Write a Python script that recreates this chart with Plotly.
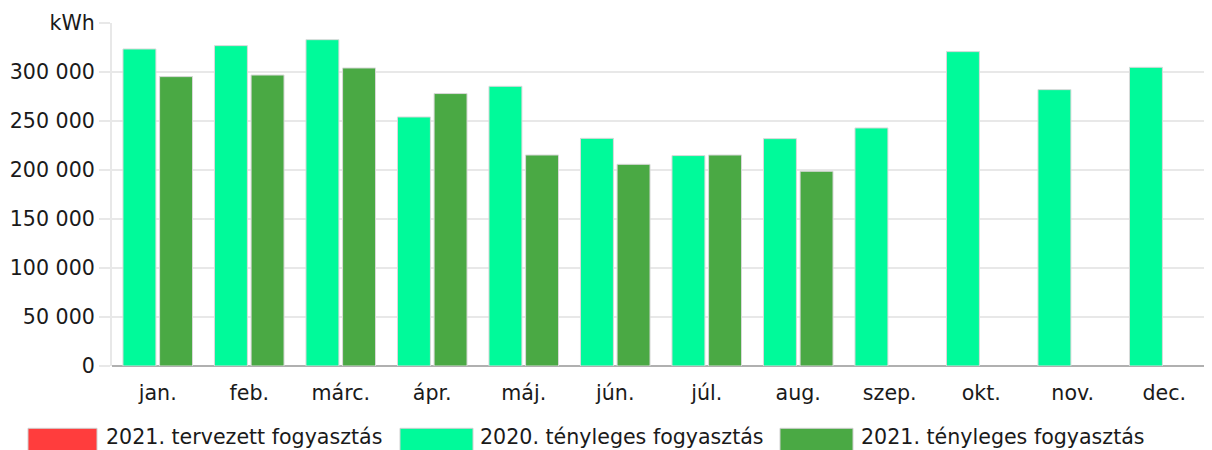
import plotly.graph_objects as go

months = ["jan.", "feb.", "márc.", "ápr.", "máj.", "jún.", "júl.", "aug.", "szep.", "okt.", "nov.", "dec."]
planned_2021 = [None] * 12
actual_2020 = [323500, 326900, 333000, 254100, 285400, 232300, 214700, 232000, 242900, 320800, 282000, 304800]
actual_2021 = [295300, 296900, 304100, 278000, 215300, 205800, 215300, 198700, None, None, None, None]
y_ticks = [0, 50000, 100000, 150000, 200000, 250000, 300000, 350000]
y_tick_text = ["0", "50 000", "100 000", "150 000", "200 000", "250 000", "300 000", "kWh"]

series = [
    ("2021. tervezett fogyasztás", planned_2021, "#ff3d3d"),
    ("2020. tényleges fogyasztás", actual_2020, "#00fa9a"),
    ("2021. tényleges fogyasztás", actual_2021, "#4aa944"),
]

FONT = "DejaVu Sans"
FS = 20.6
TXT = "#1a1a1a"
OFF = 8  # page body offset

W, H = 1212 - OFF, 450 - OFF
L, R, T, B = 112 - OFF, 1210 - OFF, 22.7 - OFF, 365.7 - OFF

fig = go.Figure()
fig.add_trace(go.Bar(x=months, y=actual_2020, name=series[1][0], marker_color=series[1][2],
                     marker_line=dict(color="#d9d9d9", width=1), offset=-0.38, width=0.36,
                     showlegend=False))
fig.add_trace(go.Bar(x=months, y=actual_2021, name=series[2][0], marker_color=series[2][2],
                     marker_line=dict(color="#d9d9d9", width=1), offset=0.02, width=0.36,
                     showlegend=False))
fig.add_trace(go.Bar(x=months, y=planned_2021, name=series[0][0], marker_color=series[0][2],
                     showlegend=False))

# manual legend (wide swatches like the reference)
def px(xp):
    return (xp - OFF - L) / (R - L)
def py(yp):
    return (B - (yp - OFF)) / (B - T)

legend_x = [(28, 97, 107), (400, 473, 481), (780, 853, 862)]
shapes = []
annotations = []
for (name, _, color), (x0, x1, tx) in zip(series, legend_x):
    shapes.append(dict(type="rect", xref="paper", yref="paper", x0=px(x0), x1=px(x1),
                       y0=py(452), y1=py(428), fillcolor=color, line=dict(width=1, color="#d0d0d0")))
    annotations.append(dict(xref="paper", yref="paper", x=px(tx - 3), y=py(437), text=name,
                            showarrow=False, xanchor="left", yanchor="middle",
                            font=dict(family=FONT, size=FS, color=TXT)))

fig.update_layout(
    width=W, height=H,
    margin=dict(l=L, r=W - R, t=T, b=H - B),
    paper_bgcolor="white", plot_bgcolor="white",
    barmode="overlay",
    font=dict(family=FONT, size=FS, color=TXT),
    shapes=shapes, annotations=annotations,
    xaxis=dict(showgrid=False, ticks="", ticklabelstandoff=12, showline=False,
               tickfont=dict(family=FONT, size=FS, color=TXT), fixedrange=True),
    yaxis=dict(range=[0, 350000], tickvals=y_ticks, ticktext=y_tick_text,
               showgrid=True, gridcolor="#e8e8e8", gridwidth=2,
               ticks="outside", ticklen=11, tickcolor="#e8e8e8", tickwidth=2,
               showline=True, linecolor="#e8e8e8", linewidth=2,
               zeroline=True, zerolinecolor="#b0b0b0", zerolinewidth=2,
               tickfont=dict(family=FONT, size=FS, color=TXT), fixedrange=True),
)

fig.write_html("out.html")
